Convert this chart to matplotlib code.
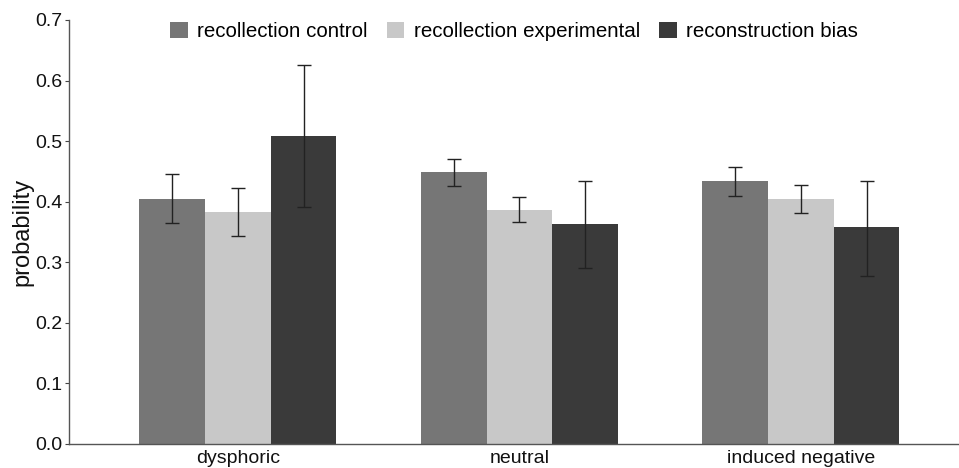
import matplotlib
matplotlib.use("Agg")
import matplotlib.pyplot as plt
import numpy as np

plt.rcParams['font.family'] = ['Liberation Sans', 'DejaVu Sans']

categories = ["dysphoric", "neutral", "induced negative"]
series_names = ["recollection control", "recollection experimental", "reconstruction bias"]
control = [0.404, 0.449, 0.434]
control_lo = [0.365, 0.426, 0.409]
control_hi = [0.446, 0.471, 0.457]
experimental = [0.383, 0.387, 0.4045]
experimental_lo = [0.343, 0.366, 0.381]
experimental_hi = [0.423, 0.408, 0.427]
bias = [0.509, 0.363, 0.358]
bias_lo = [0.392, 0.290, 0.278]
bias_hi = [0.625, 0.434, 0.435]
y_ticks = [0.0, 0.1, 0.2, 0.3, 0.4, 0.5, 0.6, 0.7]

colors = ["#767676", "#c8c8c8", "#3a3a3a"]

fig = plt.figure(figsize=(9.59, 4.68), dpi=100)
ax = fig.add_axes([69/959, 1-444/468, 890/959, 424/468])

x = np.arange(len(categories))
w = 0.7/3
data = [(control, control_lo, control_hi), (experimental, experimental_lo, experimental_hi), (bias, bias_lo, bias_hi)]
for i, (vals, lo, hi) in enumerate(data):
    vals = np.array(vals); lo = np.array(lo); hi = np.array(hi)
    pos = x + (i - 1) * w
    ax.bar(pos, vals, width=w, color=colors[i], label=series_names[i], edgecolor='none', zorder=2)
    ax.errorbar(pos, vals, yerr=[vals - lo, hi - vals], fmt='none', ecolor='#222222',
                elinewidth=1.0, capsize=5, capthick=1.0, zorder=3)

ax.set_xlim(-0.6, -0.6 + 890/281.5)
ax.set_ylim(0, 0.7)
ax.set_yticks(y_ticks)
ax.set_yticklabels([f"{t:.1f}" for t in y_ticks], fontsize=14, color='#111111')
ax.set_xticks(x)
ax.set_xticklabels(categories, fontsize=14, color='#111111')
ax.tick_params(axis='x', length=0, pad=4)
ax.tick_params(axis='y', length=3, width=0.8, color='#444444', pad=2)
for s in ['top', 'right']:
    ax.spines[s].set_visible(False)
for s in ['left', 'bottom']:
    ax.spines[s].set_color('#555555')
    ax.spines[s].set_linewidth(1.0)
ax.set_ylabel("probability", fontsize=17, color='#111111', labelpad=1)

leg = ax.legend(loc='center', bbox_to_anchor=(0.5, 0.973), ncol=3, frameon=False,
                fontsize=14.8, handlelength=0.85, handleheight=0.85,
                handletextpad=0.45, columnspacing=0.95, borderaxespad=0)

fig.savefig("out.png", dpi=100)
